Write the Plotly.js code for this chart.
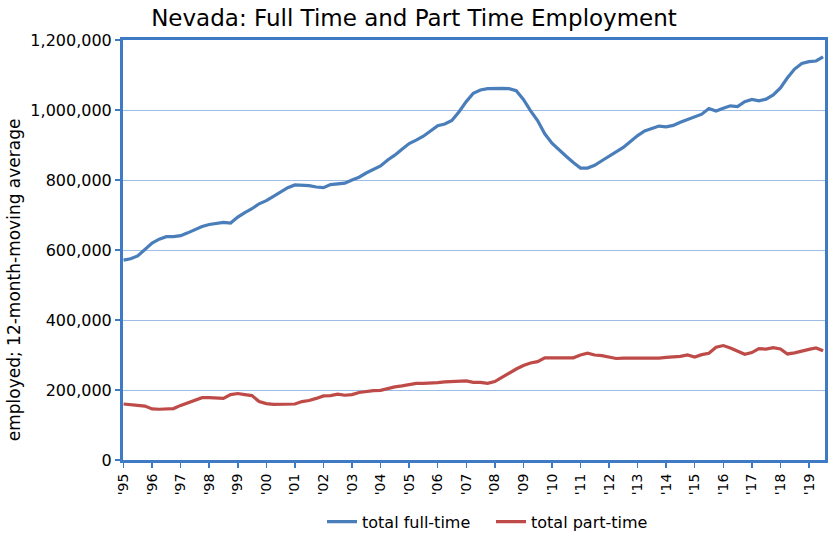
<!DOCTYPE html>
<html>
<head>
<meta charset="utf-8">
<script src="https://cdn.plot.ly/plotly-3.0.1.min.js"></script>
<style>
  html, body { margin: 0; padding: 0; background: #fff; }
  #chart { width: 828px; height: 539px; }
</style>
</head>
<body>
<div id="chart"></div>
<script>
// Quarterly readings (Jan, Apr, Jul, Oct) from Jan 1995 through Jul 2019
const startYear = 1995;
const fullTime = [
  571000, 575000, 583000, 602000,
  620000, 631000, 638000, 638000,
  641000, 649000, 659000, 667000,
  673000, 676000, 679000, 677000,
  694000, 707000, 718000, 732000,
  741000, 753000, 766000, 778000,
  786000, 785000, 784000, 780000,
  778000, 787000, 788000, 791000,
  800000, 808000, 820000, 829000,
  840000, 857000, 871000, 888000,
  904000, 914000, 925000, 940000,
  955000, 960000, 970000, 995000,
  1024000, 1048000, 1057000, 1061000,
  1062000, 1062000, 1061000, 1055000,
  1030000, 998000, 970000, 932000,
  905000, 888000, 868000, 850000,
  834000, 834000, 842000, 855000,
  868000, 882000, 893000, 910000,
  927000, 940000, 946000, 954000,
  952000, 956000, 965000, 973000,
  981000, 988000, 1004000, 997000,
  1005000, 1012000, 1010000, 1024000,
  1030000, 1026000, 1031000, 1043000,
  1063000, 1092000, 1117000, 1133000,
  1138000, 1140000, 1152000
];
const partTime = [
  160000, 157000, 156000, 154000,
  146000, 145000, 145000, 147000,
  156000, 164000, 172000, 178000,
  178000, 176000, 176000, 187000,
  190000, 187000, 184000, 167000,
  161000, 159000, 159000, 161000,
  160000, 167000, 170000, 176000,
  183000, 184000, 188000, 185000,
  187000, 193000, 196000, 198000,
  199000, 205000, 209000, 212000,
  216000, 219000, 219000, 219000,
  221000, 223000, 224000, 227000,
  226000, 222000, 222000, 219000,
  224000, 236000, 249000, 260000,
  270000, 277000, 281000, 292000,
  292000, 291000, 292000, 292000,
  300000, 305000, 300000, 298000,
  293000, 290000, 291000, 291000,
  290000, 292000, 291000, 291000,
  293000, 294000, 296000, 300000,
  294000, 301000, 305000, 322000,
  327000, 320000, 310000, 302000,
  307000, 318000, 317000, 321000,
  317000, 303000, 306000, 312000,
  316000, 320000, 312000
];
const seriesNames = ['total full-time', 'total part-time'];
const chartTitle = 'Nevada: Full Time and Part Time Employment';
const yTitle = 'employed; 12-month-moving average';

const dates = fullTime.map((_, i) => {
  const y = startYear + Math.floor(i / 4);
  const m = (i % 4) * 3 + 1;
  return y + '-' + String(m).padStart(2, '0') + '-01';
});

const axisBlue = '#3f7bc4';
const FONT = 'DejaVu Sans, Liberation Sans, Arial, sans-serif';

const traces = [
  { x: dates, y: fullTime, name: seriesNames[0], type: 'scatter', mode: 'lines',
    line: { color: '#4a7ebb', width: 3.2 } },
  { x: dates, y: partTime, name: seriesNames[1], type: 'scatter', mode: 'lines',
    line: { color: '#be4b48', width: 3.2 } }
];

const layout = {
  width: 828, height: 539,
  margin: { l: 123, r: 3, t: 40, b: 79, autoexpand: false },
  paper_bgcolor: '#ffffff', plot_bgcolor: '#ffffff',
  font: { family: FONT, color: '#000000', size: 14 },
  title: { text: chartTitle, x: 0.5, xref: 'container', xanchor: 'center',
           y: 0.967, yref: 'container', yanchor: 'middle',
           font: { family: FONT, size: 23, color: '#000' } },
  xaxis: {
    type: 'date',
    range: ['1994-12-25', '2019-07-25'],
    tick0: '1995-01-01', dtick: 'M12', tickformat: "'%y",
    tickangle: -90,
    ticks: 'outside', ticklen: 5, tickwidth: 1.5, tickcolor: axisBlue,
    showgrid: false, zeroline: false,
    showline: true, linecolor: axisBlue, linewidth: 3, mirror: true,
    tickfont: { family: FONT, size: 14, color: '#000' }
  },
  yaxis: {
    range: [0, 1200000], dtick: 200000, tickformat: ',d',
    ticks: 'outside', ticklen: 5, tickwidth: 1.5, tickcolor: axisBlue,
    showgrid: true, gridcolor: '#9dbde6', gridwidth: 1,
    zeroline: false,
    showline: true, linecolor: axisBlue, linewidth: 3, mirror: true,
    tickfont: { family: FONT, size: 16, color: '#000' }
  },
  annotations: [{
    text: yTitle, textangle: -90, showarrow: false,
    xref: 'paper', yref: 'paper', x: -0.154, y: 0.43,
    xanchor: 'center', yanchor: 'middle',
    font: { family: FONT, size: 17, color: '#000' }
  }],
  showlegend: true,
  legend: {
    orientation: 'h', xref: 'container', yref: 'container',
    x: 0.593, xanchor: 'center', y: 0.032, yanchor: 'middle',
    entrywidth: 124, entrywidthmode: 'pixels',
    font: { family: FONT, size: 16, color: '#000' },
    bgcolor: 'rgba(0,0,0,0)'
  }
};

Plotly.newPlot('chart', traces, layout, { displayModeBar: false, staticPlot: true });
</script>
</body>
</html>
